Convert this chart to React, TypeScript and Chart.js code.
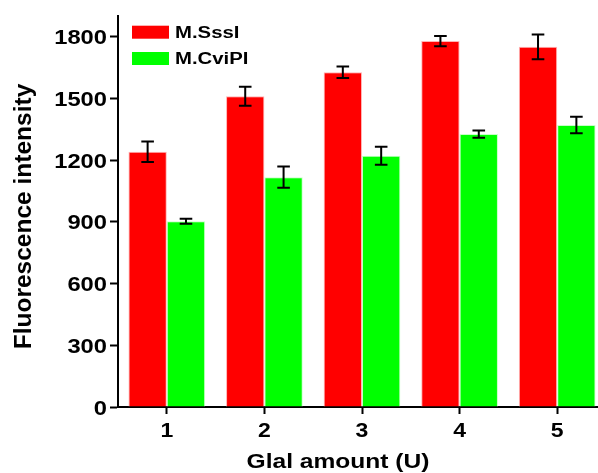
import React, { useEffect, useRef } from 'react';
import { Chart, registerables } from 'chart.js';

Chart.register(...registerables);

const categories = ['1', '2', '3', '4', '5'];
const sssiLabel = 'M.SssI';
const cvipiLabel = 'M.CviPI';
const sssiValues = [1240, 1510, 1627, 1778, 1750];
const sssiErrors = [50, 46, 28, 25, 60];
const cvipiValues = [903, 1117, 1221, 1326, 1370];
const cvipiErrors = [12, 52, 44, 18, 40];
const yMin = 0;
const yMax = 1900;
const yStep = 300;
const xTitle = 'Glal amount (U)';
const yTitle = 'Fluorescence intensity';

const FONT = '"Liberation Sans", Arial, sans-serif';

function stretchText(ctx: any, text: string, x: number, y: number, k: number, align: CanvasTextAlign) {
  ctx.save();
  ctx.translate(x, y);
  ctx.scale(k, 1);
  ctx.textAlign = align;
  ctx.textBaseline = 'alphabetic';
  ctx.fillText(text, 0, 0);
  ctx.restore();
}

const errorBarPlugin = {
  id: 'errorBars',
  afterDatasetsDraw(chart: any) {
    const ctx = chart.ctx;
    const yScale = chart.scales.y;
    ctx.save();
    ctx.strokeStyle = '#000';
    ctx.lineWidth = 2;
    chart.data.datasets.forEach((ds: any, i: number) => {
      const meta = chart.getDatasetMeta(i);
      meta.data.forEach((bar: any, j: number) => {
        const v = ds.data[j];
        const e = ds.errors[j];
        const x = bar.x;
        const yt = yScale.getPixelForValue(v + e);
        const yb = yScale.getPixelForValue(v - e);
        const cap = 6.3;
        ctx.beginPath();
        ctx.moveTo(x, yt);
        ctx.lineTo(x, yb);
        ctx.moveTo(x - cap, yt);
        ctx.lineTo(x + cap, yt);
        ctx.moveTo(x - cap, yb);
        ctx.lineTo(x + cap, yb);
        ctx.stroke();
      });
    });
    ctx.restore();
  },
};

const textPlugin = {
  id: 'texts',
  afterDraw(chart: any) {
    const ctx = chart.ctx;
    const area = chart.chartArea;
    const xs = chart.scales.x;
    const ys = chart.scales.y;
    ctx.save();
    ctx.fillStyle = '#000';
    // y tick labels
    ctx.font = `bold 21px ${FONT}`;
    ys.ticks.forEach((t: any) => {
      const py = ys.getPixelForValue(t.value);
      stretchText(ctx, String(t.value), area.left - 11, py + 7.5, 1.13, 'right');
    });
    // x tick labels
    ctx.font = `bold 20px ${FONT}`;
    xs.ticks.forEach((t: any, i: number) => {
      const px = xs.getPixelForTick(i);
      stretchText(ctx, String(categories[i]), px, area.bottom + 30.3, 1.15, 'center');
    });
    // legend
    const bx = area.left + 14;
    const tops = [area.top + 9.7, area.top + 36];
    ctx.font = `bold 16px ${FONT}`;
    chart.data.datasets.forEach((ds: any, i: number) => {
      ctx.fillStyle = ds.backgroundColor;
      ctx.fillRect(bx, tops[i], 37, 13);
      ctx.fillStyle = '#000';
      stretchText(ctx, ds.label, bx + 43, tops[i] + 12, 1.27, 'left');
    });
    // axis titles
    ctx.font = `bold 21px ${FONT}`;
    stretchText(ctx, xTitle, 338, 468.3, 1.17, 'center');
    ctx.save();
    ctx.font = `bold 24.5px ${FONT}`;
    ctx.translate(30.8, 216.5);
    ctx.rotate(-Math.PI / 2);
    ctx.textAlign = 'center';
    ctx.textBaseline = 'alphabetic';
    ctx.fillText(yTitle, 0, 0);
    ctx.restore();
    ctx.restore();
  },
};

export default function App() {
  const ref = useRef<HTMLCanvasElement>(null);
  useEffect(() => {
    if (!ref.current) return;
    const chart = new Chart(ref.current, {
      type: 'bar',
      data: {
        labels: categories,
        datasets: [
          {
            label: sssiLabel,
            data: sssiValues,
            errors: sssiErrors,
            backgroundColor: '#ff0000',
            borderColor: '#ffb4b4',
            borderWidth: 1,
            categoryPercentage: 0.786,
            barPercentage: 1,
          } as any,
          {
            label: cvipiLabel,
            data: cvipiValues,
            errors: cvipiErrors,
            backgroundColor: '#00ff00',
            borderColor: '#c8ffc8',
            borderWidth: 1,
            categoryPercentage: 0.786,
            barPercentage: 1,
          } as any,
        ],
      },
      options: {
        responsive: false,
        animation: false,
        layout: { padding: { left: 0, top: 16, right: 6, bottom: 0 } },
        plugins: {
          legend: { display: false },
          tooltip: { enabled: false },
        },
        scales: {
          x: {
            offset: true,
            grid: {
              display: true,
              offset: false,
              drawOnChartArea: false,
              drawTicks: true,
              tickLength: 7,
              tickWidth: 2,
              tickColor: '#000',
            },
            border: { display: true, color: '#000', width: 2 },
            ticks: { display: false },
            afterFit(scale: any) {
              scale.height = 66;
            },
          },
          y: {
            min: yMin,
            max: yMax,
            grid: {
              display: true,
              drawOnChartArea: false,
              drawTicks: true,
              tickLength: 8,
              tickWidth: 2,
              tickColor: '#000',
            },
            border: { display: true, color: '#000', width: 2 },
            ticks: {
              display: false,
              stepSize: yStep,
              includeBounds: false,
            },
            afterFit(scale: any) {
              scale.width = 118;
            },
          },
        },
      } as any,
      plugins: [errorBarPlugin, textPlugin],
    });
    return () => chart.destroy();
  }, []);
  return (
    <div
      style={{
        position: 'absolute',
        left: 0,
        top: 0,
        width: 598,
        height: 473,
        overflow: 'hidden',
        background: '#fff',
      }}
    >
      <canvas ref={ref} width={612} height={473} style={{ display: 'block' }} />
    </div>
  );
}
